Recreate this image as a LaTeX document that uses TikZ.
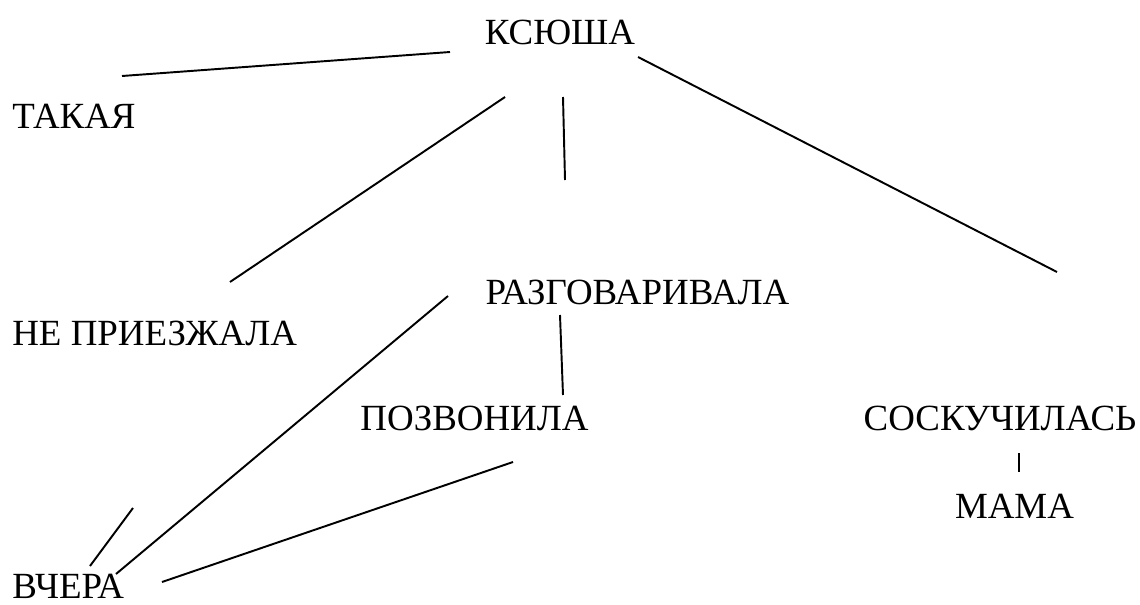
\documentclass[tikz,border=0pt]{standalone}
\usepackage{fontspec}
\setmainfont{Liberation Serif}
\begin{document}
\begin{tikzpicture}[word/.style={inner sep=0pt,font=\fontsize{21}{25}\selectfont},
    edge/.style={line width=1.1pt}]
        % Frame
        \useasboundingbox (0,0) rectangle (22.8,12.08);
        % Words
        \node[word] (ksyusha) at (11.2,11.43) {КСЮША};
        \node[word,anchor=west] (takaya) at (0.24,9.76) {ТАКАЯ};
        \node[word,anchor=west] (nepriezzhala) at (0.24,5.42) {НЕ ПРИЕЗЖАЛА};
        \node[word] (razgovarivala) at (12.75,6.24) {РАЗГОВАРИВАЛА};
        \node[word] (pozvonila) at (9.49,3.72) {ПОЗВОНИЛА};
        \node[word] (soskuchilas) at (20.0,3.72) {СОСКУЧИЛАСЬ};
        \node[word] (mama) at (20.29,1.96) {МАМА};
        \node[word,anchor=west] (vchera) at (0.24,0.36) {ВЧЕРА};
        % Line ends near the words
        \coordinate (ksyusha-w) at (9.0,11.04);
        \coordinate (ksyusha-sw) at (10.1,10.14);
        \coordinate (ksyusha-s) at (11.26,10.14);
        \coordinate (ksyusha-e) at (12.76,10.94);
        \coordinate (takaya-ne) at (2.44,10.56);
        \coordinate (nepriezzhala-ne) at (4.6,6.44);
        \coordinate (nepriezzhala-s) at (2.66,1.92);
        \coordinate (razgovarivala-n) at (11.3,8.48);
        \coordinate (razgovarivala-w) at (8.96,6.16);
        \coordinate (razgovarivala-s) at (11.2,5.78);
        \coordinate (pozvonila-n) at (11.26,4.18);
        \coordinate (pozvonila-s) at (10.26,2.84);
        \coordinate (soskuchilas-n) at (21.14,6.64);
        \coordinate (soskuchilas-s) at (20.38,3.02);
        \coordinate (mama-n) at (20.38,2.64);
        \coordinate (vchera-n) at (1.8,0.76);
        \coordinate (vchera-ne) at (2.32,0.6);
        \coordinate (vchera-e) at (3.24,0.44);
        % Lines
        \draw[edge] (ksyusha-w) -- (takaya-ne);
        \draw[edge] (ksyusha-sw) -- (nepriezzhala-ne);
        \draw[edge] (ksyusha-s) -- (razgovarivala-n);
        \draw[edge] (ksyusha-e) -- (soskuchilas-n);
        \draw[edge] (razgovarivala-w) -- (vchera-ne);
        \draw[edge] (razgovarivala-s) -- (pozvonila-n);
        \draw[edge] (nepriezzhala-s) -- (vchera-n);
        \draw[edge] (pozvonila-s) -- (vchera-e);
        \draw[edge] (soskuchilas-s) -- (mama-n);
    \end{tikzpicture}
\end{document}
